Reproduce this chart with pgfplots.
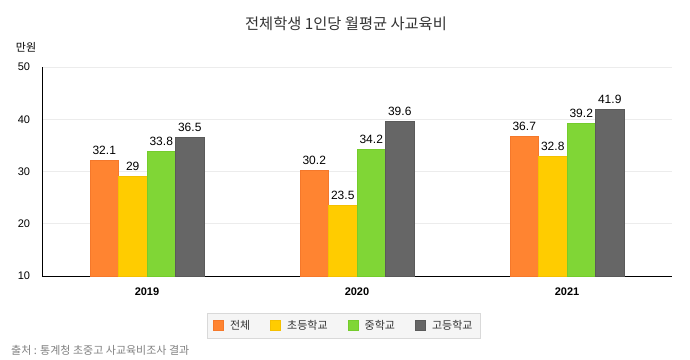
\documentclass[border=0pt]{standalone}
\usepackage{fontspec}
\setmainfont{Liberation Sans}
\newfontfamily\kr{Noto Sans CJK KR}
\usepackage{pgfplots}
\pgfplotsset{compat=1.18}
\definecolor{cA}{HTML}{FF8431}
\definecolor{cAd}{HTML}{F5782A}
\definecolor{cB}{HTML}{FFCC00}
\definecolor{cBd}{HTML}{F5C000}
\definecolor{cC}{HTML}{80D636}
\definecolor{cCd}{HTML}{74CC2C}
\definecolor{cD}{HTML}{666666}
\definecolor{cDd}{HTML}{5A5A5A}
\definecolor{txt}{HTML}{333333}
\begin{document}
\begin{tikzpicture}
\path[use as bounding box] (0bp,0bp) rectangle (690bp,-360bp);
\begin{axis}[
  at={(42bp,-276bp)}, anchor=south west,
  scale only axis, width=630bp, height=209bp,
  xmin=-0.5, xmax=2.5, ymin=10, ymax=50,
  xtick=data, xticklabels={2019,2020,2021},
  ytick={10,20,30,40,50},
  ymajorgrids, grid style={draw=gray!15, line width=0.8pt},
  axis x line*=bottom, axis y line*=left,
  axis line style={black, line width=0.8pt},
  major tick length=0pt,
  tick label style={font=\fontsize{11bp}{13bp}\selectfont, text=black},
  /pgf/number format/assume math mode=true,
  xticklabel style={font=\fontsize{11bp}{13bp}\selectfont\bfseries, yshift=-8bp},
  yticklabel style={anchor=center, xshift=-18bp},
  ybar=0bp, bar width=28.5bp,
  nodes near coords,
  every node near coord/.append style={font=\fontsize{12bp}{14bp}\selectfont, text=black, yshift=2bp},
  legend columns=4,
  legend style={at={(0.479,-0.239)}, anchor=center, fill=gray!8, draw=gray!30,
    font=\kr\fontsize{11bp}{13bp}\selectfont, text=txt,
    /tikz/every even column/.append style={column sep=18bp},
    /tikz/every odd column/.append style={column sep=4bp},
    inner xsep=6bp, inner ysep=5bp},
  legend image code/.code={\draw[#1, line width=1pt] (0bp,-5bp) rectangle (10bp,5bp);},
]
\addplot[fill=cA, draw=cAd, line width=1pt] coordinates {(0,32.1) (1,30.2) (2,36.7)};
\addplot[fill=cB, draw=cBd, line width=1pt] coordinates {(0,29) (1,23.5) (2,32.8)};
\addplot[fill=cC, draw=cCd, line width=1pt] coordinates {(0,33.8) (1,34.2) (2,39.2)};
\addplot[fill=cD, draw=cDd, line width=1pt] coordinates {(0,36.5) (1,39.6) (2,41.9)};
\legend{전체,초등학교,중학교,고등학교}
\end{axis}
\node[font=\kr\fontsize{15.3bp}{17bp}\selectfont, text=txt] at (346bp,-24bp) {전체학생 1인당 월평균 사교육비};
\node[font=\kr\fontsize{11bp}{13bp}\selectfont, text=black] at (26bp,-47bp) {만원};
\node[anchor=west, inner sep=0pt, font=\kr\fontsize{11bp}{13bp}\selectfont, text=gray] at (11bp,-350bp) {출처 : 통계청 초중고 사교육비조사 결과};
\end{tikzpicture}
\end{document}
